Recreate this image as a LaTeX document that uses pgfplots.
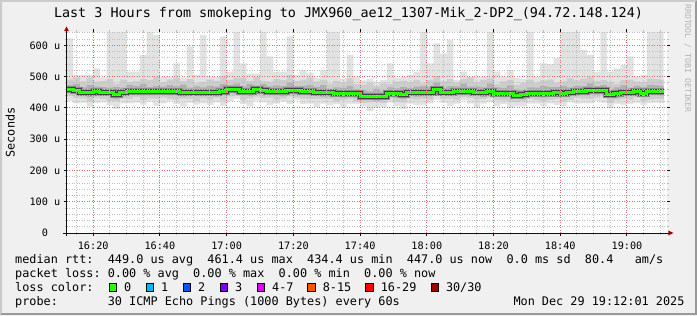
\documentclass[border=0pt]{standalone}
\usepackage{pgfplots}
\pgfplotsset{compat=1.18}
\usepackage{pgfplotstable}
\usepackage{fontspec}
\setmainfont{DejaVu Sans Mono}[WordSpace={1,0,0}]
\definecolor{bgc}{HTML}{F0F0F0}
\definecolor{shadeA}{HTML}{CBCBCB}
\definecolor{shadeB}{HTML}{999999}
\definecolor{gridc}{HTML}{BDBDBD}
\definecolor{mgridc}{HTML}{DC6A6A}
\definecolor{axisc}{HTML}{101010}
\definecolor{arrowc}{HTML}{A10000}
\definecolor{smokeA}{HTML}{E2E2E2}
\definecolor{smokeB}{HTML}{CDCDCD}
\definecolor{smokeC}{HTML}{B0B0B0}
\definecolor{medA}{HTML}{8A8A8A}
\definecolor{medB}{HTML}{404040}
\definecolor{medG}{HTML}{26FF00}
\definecolor{lc0}{HTML}{26FF00}
\definecolor{lc1}{HTML}{00B8FF}
\definecolor{lc2}{HTML}{0059FF}
\definecolor{lc3}{HTML}{7E00FF}
\definecolor{lc4}{HTML}{DD00FF}
\definecolor{lc8}{HTML}{FF5500}
\definecolor{lc16}{HTML}{FF0000}
\definecolor{lc30}{HTML}{A10000}
\definecolor{wmc}{HTML}{B4B4B4}
\newcommand{\titlef}{\fontsize{13.4bp}{16bp}\selectfont}
\newcommand{\legf}{\fontsize{11.83bp}{14bp}\selectfont}
\newcommand{\tickf}{\fontsize{10.2bp}{12bp}\selectfont}
\newcommand{\wmf}{\fontsize{8.2bp}{10bp}\selectfont}
\pgfplotstableread{
t m a b c d e f
12 459 423 623 439 491 449 474
14 457 415 506 432 497 444 477
16 449 416 506 431 485 440 466
18 449 404 506 421 497 435 473
20 454 416 527 432 484 443 468
22 448 418 498 429 486 438 467
24 448 408 643 422 492 439 465
26 443 396 643 422 477 429 467
28 450 415 643 430 491 437 465
30 454 415 516 429 483 443 474
32 453 417 516 435 485 443 470
34 453 411 570 425 493 440 477
36 453 420 643 431 489 444 467
38 452 407 634 430 500 441 471
40 453 415 500 434 483 443 468
42 453 423 500 428 491 440 473
44 452 412 543 426 496 443 469
46 451 404 497 430 485 437 475
48 451 416 597 429 492 440 465
50 450 411 506 422 479 440 469
52 451 415 634 431 483 438 466
54 451 409 500 426 491 442 471
56 451 418 500 433 487 437 468
58 452 407 629 424 500 441 476
60 459 421 516 437 489 449 473
62 459 429 643 440 497 445 478
64 452 412 543 426 496 443 469
66 452 405 510 431 486 439 476
68 458 423 510 436 499 447 472
70 457 418 643 432 486 444 476
72 452 410 565 433 484 441 469
74 452 414 516 426 492 442 472
76 453 420 516 431 489 439 470
78 457 412 629 437 505 446 481
80 456 426 506 434 486 443 470
82 452 412 522 430 490 441 471
84 454 414 512 428 498 441 474
86 450 403 496 429 484 440 467
88 449 414 522 428 490 436 473
90 448 409 643 428 477 437 462
92 447 412 643 420 487 437 466
94 447 401 495 425 482 433 464
96 447 413 570 428 495 436 471
98 446 413 500 420 476 433 460
100 437 404 488 416 475 427 456
102 436 390 492 418 480 426 453
104 437 402 484 419 471 423 461
106 438 402 490 416 479 429 452
108 447 417 543 428 476 436 466
110 446 406 496 420 484 433 463
112 443 396 499 418 487 429 467
114 449 414 506 429 483 440 464
116 449 410 516 427 490 436 468
118 450 408 643 428 479 437 470
120 451 415 543 426 489 441 468
122 458 425 607 440 502 447 482
124 451 416 575 429 485 441 465
126 451 406 618 430 492 438 470
128 452 414 490 426 481 441 469
130 454 424 516 435 492 442 478
132 454 414 500 432 498 441 468
134 449 402 500 427 483 439 468
136 449 414 500 428 490 435 466
138 454 419 643 433 495 441 478
140 447 406 516 425 476 436 466
142 447 412 500 424 485 434 464
144 446 401 522 420 490 436 472
146 440 405 496 418 474 428 459
148 442 405 492 421 480 428 456
150 447 414 643 429 491 437 466
152 447 414 500 425 481 437 465
154 447 406 543 421 488 433 470
156 447 415 540 426 491 436 467
158 448 410 560 428 480 437 467
160 447 406 643 420 485 436 471
162 448 418 643 426 495 438 466
164 452 414 643 433 488 438 471
166 453 415 586 430 494 442 470
168 455 415 570 429 499 444 479
170 456 423 516 434 487 443 470
172 455 416 643 437 489 444 474
174 442 400 516 416 484 431 459
176 447 413 527 425 477 433 466
178 448 410 538 428 489 437 472
180 451 413 565 427 491 440 465
182 452 417 500 434 484 442 471
184 447 410 506 423 483 436 467
186 452 416 643 427 494 441 474
188 453 417 643 429 492 441 472
190 452 416 643 428 490 440 470
191 452 416 643 428 490 440 470
}\smoke
\begin{document}
\frenchspacing
\begin{tikzpicture}[x=1bp,y=1bp]
% frame
\fill[bgc] (0,0) rectangle (697,315);
\fill[shadeA] (0,0) -- (0,315) -- (697,315) -- (695,313) -- (2,313) -- (2,2) -- cycle;
\fill[shadeB] (0,0) -- (697,0) -- (697,315) -- (695,313) -- (695,2) -- (2,2) -- cycle;
\fill[white] (66.5,82) rectangle (667,283);
% title
\node[anchor=base, inner sep=0pt] at (348.5,297.5) {\titlef Last 3 Hours from smokeping to JMX960\_ae12\_1307-Mik\_2-DP2\_(94.72.148.124)};
% watermark
\node[rotate=-90, anchor=base west, inner sep=0pt, text=wmc] at (685,311) {\wmf RRDTOOL / TOBI OETIKER};
% y label
\node[rotate=90, anchor=base, inner sep=0pt] at (14.5,182.5) {\legf Seconds};
\begin{axis}[
  at={(66.5bp,82bp)}, anchor=south west,
  scale only axis, width=600.5bp, height=201bp,
  xmin=12, xmax=192, ymin=0, ymax=643.2,
  axis line style={draw=none},
  axis on top,
  xtick={20,40,...,180},
  xticklabels={16:20,16:40,17:00,17:20,17:40,18:00,18:20,18:40,19:00},
  minor xtick={15,25,30,35,45,50,55,65,70,75,85,90,95,105,110,115,125,130,135,145,150,155,165,170,175,185,190},
  ytick={0,100,...,600},
  yticklabels={0\phantom{ u},100 u,200 u,300 u,400 u,500 u,600 u},
  minor ytick={20,40,60,80,120,140,160,180,220,240,260,280,320,340,360,380,420,440,460,480,520,540,560,580,620,640},
  grid=both,
  major grid style={draw=mgridc, line width=1bp, dash pattern=on 1bp off 1.5bp},
  minor grid style={draw=gridc, line width=1bp, dash pattern=on 1bp off 1.5bp},
  tick align=outside,
  major tick length=3bp, minor tick length=2bp,
  tick style={line width=1bp, color=axisc},
  minor tick style={color=gridc},
  xticklabel style={font=\tickf, anchor=base, inner sep=0pt, yshift=-13bp},
  yticklabel style={font=\tickf, anchor=east, inner sep=0pt, xshift=-3bp},
]
\addplot[const plot, draw=none, fill=smokeA] table[x=t,y=b]{\smoke} \closedcycle;
\addplot[const plot, draw=none, fill=smokeB] table[x=t,y=d]{\smoke} \closedcycle;
\addplot[const plot, draw=none, fill=smokeC] table[x=t,y=f]{\smoke} \closedcycle;
\addplot[const plot, draw=none, fill=smokeB] table[x=t,y=e]{\smoke} \closedcycle;
\addplot[const plot, draw=none, fill=smokeA] table[x=t,y=c]{\smoke} \closedcycle;
\addplot[const plot, draw=none, fill=white] table[x=t,y=a]{\smoke} \closedcycle;
\addplot[const plot, line width=7bp, color=medA] table[x=t,y=m]{\smoke};
\addplot[const plot, line width=5bp, color=medB] table[x=t,y=m]{\smoke};
\addplot[const plot, line width=3bp, color=medG] table[x=t,y=m]{\smoke};
\end{axis}
% axes lines and arrows
\draw[line width=1bp, axisc] (63,82) -- (669,82);
\fill[arrowc] (668.3,79.5) -- (673.5,82) -- (668.3,84.5) -- cycle;
\draw[line width=1bp, axisc] (66.5,79) -- (66.5,284.5);
\fill[arrowc] (64.2,284) -- (66.5,288.5) -- (68.8,284) -- cycle;
% legend
\node[anchor=base west, inner sep=0pt] at (15,51.5) {\legf median rtt:~~449.0 us avg~~461.4 us max~~434.4 us min~~447.0 us now~~0.0 ms sd~~80.4~~~am/s};
\node[anchor=base west, inner sep=0pt] at (15,37.5) {\legf packet loss: 0.00 \% avg~~0.00 \% max~~0.00 \% min~~0.00 \% now};
\node[anchor=base west, inner sep=0pt] at (15,23.5) {\legf loss color:};
\foreach \bx/\col/\lab in {108.7/lc0/0, 145.7/lc1/1, 182.7/lc2/2, 219.7/lc3/3, 256.7/lc4/4-7, 307.3/lc8/8-15, 365.3/lc16/16-29, 430.5/lc30/{30/30}}{
  \filldraw[fill=\col, draw=black, line width=1bp] (\bx+0.5,24) rectangle (\bx+8,31.5);
  \node[anchor=base west, inner sep=0pt] at (\bx+15.3,23.5) {\legf \lab};
}
\node[anchor=base west, inner sep=0pt] at (15,9.7) {\legf probe:};
\node[anchor=base west, inner sep=0pt] at (107.6,9.7) {\legf 30 ICMP Echo Pings (1000 Bytes) every 60s};
\node[anchor=base west, inner sep=0pt] at (513.3,9.7) {\legf Mon Dec 29 19:12:01 2025};
\end{tikzpicture}
\end{document}
